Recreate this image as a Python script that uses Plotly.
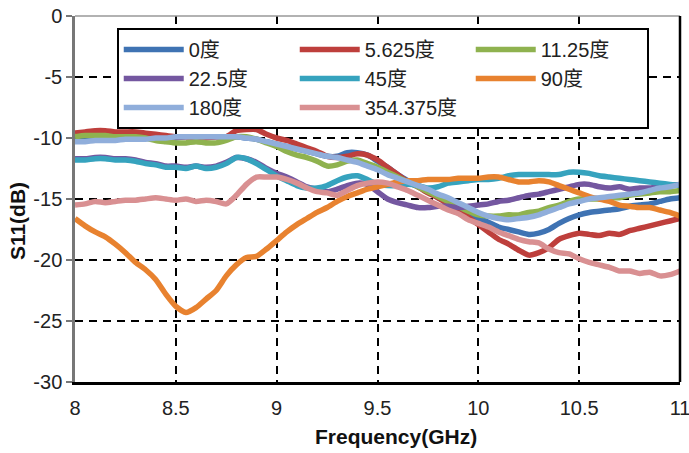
import plotly.graph_objects as go

freq = [8.00, 8.05, 8.10, 8.15, 8.20, 8.25, 8.30, 8.35, 8.40, 8.45,
        8.50, 8.55, 8.60, 8.65, 8.70, 8.75, 8.80, 8.85, 8.90, 8.95,
        9.00, 9.05, 9.10, 9.15, 9.20, 9.25, 9.30, 9.35, 9.40, 9.45,
        9.50, 9.55, 9.60, 9.65, 9.70, 9.75, 9.80, 9.85, 9.90, 9.95,
        10.00, 10.05, 10.10, 10.15, 10.20, 10.25, 10.30, 10.35, 10.40, 10.45,
        10.50, 10.55, 10.60, 10.65, 10.70, 10.75, 10.80, 10.85, 10.90, 10.95,
        11.00]

s11_0 = [-10.1, -10.1, -10.0, -10.0, -10.1, -10.0, -10.0, -10.0, -9.9, -10.0,
         -10.0, -9.9, -9.9, -9.9, -9.9, -9.9, -9.9, -10.0, -10.1, -10.3,
         -10.5, -10.7, -10.9, -11.1, -11.3, -11.5, -11.5, -11.2, -11.2, -11.4,
         -11.9, -12.4, -13.0, -13.5, -13.9, -14.4, -14.9, -15.3, -15.7, -16.2,
         -16.6, -16.9, -17.3, -17.5, -17.7, -17.9, -17.8, -17.5, -17.0, -16.6,
         -16.3, -16.1, -16.0, -15.9, -15.8, -15.6, -15.5, -15.4, -15.2, -15.0,
         -14.9]
s11_5625 = [-9.6, -9.5, -9.4, -9.4, -9.5, -9.5, -9.5, -9.6, -9.7, -9.8,
            -9.9, -9.9, -10.0, -10.0, -9.9, -9.9, -9.4, -9.3, -9.3, -9.7,
            -10.0, -10.2, -10.5, -10.8, -11.1, -11.5, -11.6, -11.5, -11.3, -11.4,
            -11.8, -12.4, -13.0, -13.6, -14.0, -14.5, -14.9, -15.4, -15.9, -16.5,
            -17.1, -17.7, -18.3, -18.7, -19.2, -19.6, -19.4, -19.0, -18.3, -18.0,
            -17.8, -17.9, -18.0, -17.8, -17.9, -17.6, -17.4, -17.2, -17.0, -16.8,
            -16.6]
s11_1125 = [-9.9, -9.8, -9.8, -9.8, -9.9, -9.9, -9.9, -10.0, -10.2, -10.3,
            -10.4, -10.4, -10.3, -10.4, -10.4, -10.2, -9.9, -9.9, -10.1, -10.4,
            -10.7, -11.1, -11.4, -11.6, -11.9, -12.3, -12.2, -11.9, -11.8, -12.1,
            -12.4, -12.8, -13.2, -13.6, -14.0, -14.4, -14.8, -15.2, -15.6, -16.0,
            -16.3, -16.4, -16.4, -16.3, -16.3, -16.1, -16.0, -15.7, -15.5, -15.2,
            -15.0, -15.0, -15.0, -14.9, -14.9, -14.7, -14.6, -14.5, -14.4, -14.4,
            -14.3]
s11_225 = [-11.7, -11.7, -11.6, -11.6, -11.7, -11.7, -11.8, -12.0, -12.1, -12.3,
           -12.3, -12.4, -12.3, -12.4, -12.3, -12.0, -11.6, -11.7, -12.0, -12.5,
           -12.9, -13.2, -13.6, -14.0, -14.2, -14.4, -14.2, -13.9, -13.7, -13.8,
           -14.4, -15.0, -15.3, -15.5, -15.7, -15.7, -15.6, -15.6, -15.7, -15.6,
           -15.5, -15.4, -15.2, -15.1, -14.9, -14.7, -14.6, -14.4, -14.2, -14.0,
           -13.8, -13.8, -14.0, -14.1, -14.0, -14.2, -14.1, -14.1, -14.0, -13.9,
           -13.8]
s11_45 = [-11.8, -11.8, -11.7, -11.7, -11.8, -11.8, -11.9, -12.1, -12.2, -12.4,
          -12.4, -12.5, -12.3, -12.5, -12.4, -12.1, -11.6, -11.7, -12.1, -12.6,
          -13.1, -13.5, -13.9, -14.1, -14.1, -13.9, -13.5, -13.2, -13.1, -13.4,
          -13.8, -13.9, -13.9, -13.8, -13.9, -14.1, -14.0, -13.7, -13.6, -13.5,
          -13.4, -13.4, -13.3, -13.1, -13.0, -13.0, -13.0, -13.0, -13.0, -12.8,
          -12.8, -12.9, -13.1, -13.2, -13.3, -13.4, -13.5, -13.6, -13.7, -13.8,
          -13.9]
s11_90 = [-16.6, -17.2, -17.7, -18.1, -18.7, -19.4, -20.2, -20.8, -21.6, -22.8,
          -23.8, -24.3, -23.9, -23.2, -22.5, -21.3, -20.4, -19.8, -19.7, -19.1,
          -18.4, -17.7, -17.1, -16.6, -16.1, -15.7, -15.2, -14.8, -14.5, -14.2,
          -14.0, -13.8, -13.6, -13.5, -13.5, -13.4, -13.4, -13.4, -13.3, -13.3,
          -13.3, -13.2, -13.2, -13.4, -13.6, -13.6, -13.5, -13.6, -13.9, -14.2,
          -14.5, -14.8, -15.0, -15.2, -15.5, -15.6, -15.7, -15.7, -15.9, -16.1,
          -16.4]
s11_180 = [-10.3, -10.3, -10.2, -10.2, -10.2, -10.1, -10.1, -10.1, -10.0, -10.0,
           -9.9, -9.9, -9.9, -9.9, -9.9, -9.9, -9.9, -10.0, -10.1, -10.3,
           -10.5, -10.7, -10.9, -11.1, -11.3, -11.5, -11.6, -11.8, -12.0, -12.3,
           -12.6, -13.0, -13.3, -13.6, -13.9, -14.2, -14.6, -14.9, -15.3, -15.7,
           -16.1, -16.4, -16.6, -16.7, -16.6, -16.5, -16.3, -16.0, -15.7, -15.4,
           -15.2, -15.0, -14.9, -14.8, -14.7, -14.6, -14.5, -14.3, -14.1, -14.0,
           -13.8]
s11_354375 = [-15.5, -15.4, -15.2, -15.3, -15.2, -15.1, -15.1, -15.0, -14.9, -15.0,
              -15.1, -15.0, -15.2, -15.1, -15.2, -15.4, -14.7, -13.8, -13.2, -13.2,
              -13.2, -13.4, -13.7, -14.1, -14.4, -14.5, -14.7, -14.3, -13.9, -13.7,
              -13.6, -13.7, -14.0, -14.3, -14.7, -15.1, -15.5, -15.9, -16.2, -16.7,
              -17.0, -17.3, -17.7, -18.0, -18.3, -18.5, -18.6, -19.1, -19.4, -19.5,
              -19.9, -20.2, -20.4, -20.6, -20.9, -20.9, -21.1, -21.0, -21.3, -21.2,
              -20.9]

names = ["0度", "5.625度", "11.25度", "22.5度", "45度", "90度", "180度", "354.375度"]
series = [s11_0, s11_5625, s11_1125, s11_225, s11_45, s11_90, s11_180, s11_354375]
colors = ["#3F73B3", "#BE3F3C", "#8FB24F", "#7457A0", "#36A3BE", "#E8822F", "#90AEDB", "#D99092"]

x_ticks = [8, 8.5, 9, 9.5, 10, 10.5, 11]
x_tick_text = ["8", "8.5", "9", "9.5", "10", "10.5", "11"]
y_ticks = [0, -5, -10, -15, -20, -25, -30]
y_tick_text = ["0", "-5", "-10", "-15", "-20", "-25", "-30"]
x_title = "Frequency(GHz)"
y_title = "S11(dB)"

font_main = "Liberation Sans, Arial, Noto Sans CJK SC"

fig = go.Figure()
for nm, ys, c in zip(names, series, colors):
    fig.add_trace(go.Scatter(x=freq, y=ys, mode="lines", name=nm,
                             line=dict(color=c, width=5.5, shape="spline", smoothing=0.6)))

fig.update_layout(
    width=689, height=453,
    margin=dict(l=75, r=9, t=16, b=71),
    paper_bgcolor="white", plot_bgcolor="white",
    font=dict(family=font_main, size=20, color="#222"),
    legend=dict(
        orientation="h", x=0.069, y=0.967, xanchor="left", yanchor="top",
        entrywidth=101, entrywidthmode="pixels", itemwidth=60,
        bgcolor="white", bordercolor="black", borderwidth=2,
        font=dict(family=font_main, size=20, color="#222"),
        tracegroupgap=0,
    ),
    xaxis=dict(
        range=[8, 11], tickvals=x_ticks, ticktext=x_tick_text,
        showgrid=True, gridcolor="black", gridwidth=1.5, griddash="8px,6px",
        showline=True, linecolor="black", linewidth=2.5,
        ticks="", zeroline=False, ticklabeloverflow="allow", automargin=False,
        ticklabelstandoff=6,
        tickfont=dict(size=20),
    ),
    yaxis=dict(
        range=[-30, 0], tickvals=y_ticks, ticktext=y_tick_text,
        showgrid=True, gridcolor="black", gridwidth=1.5, griddash="8px,6px",
        showline=True, linecolor="#777", linewidth=2.5,
        ticks="outside", ticklen=6, tickcolor="#777", tickwidth=1.5,
        zeroline=False, automargin=False,
        tickfont=dict(size=20),
    ),
    showlegend=True,
)

fig.add_annotation(text="<b>" + x_title + "</b>", xref="paper", yref="paper",
                   x=0.531, y=-0.150, xanchor="center", yanchor="middle", showarrow=False,
                   font=dict(family="Liberation Sans, Arial", size=21, color="#111"))
fig.add_annotation(text="<b>" + y_title + "</b>", xref="paper", yref="paper",
                   x=-0.094, y=0.44, xanchor="center", yanchor="middle", showarrow=False,
                   textangle=-90,
                   font=dict(family="Liberation Sans, Arial", size=21, color="#111"))

fig.add_shape(type="line", xref="paper", yref="paper", x0=0, x1=1, y0=1, y1=1,
              line=dict(color="#999", width=1.5))
fig.add_shape(type="line", xref="paper", yref="paper", x0=1, x1=1, y0=0, y1=1,
              line=dict(color="black", width=2.5))

fig.write_html("out.html")
